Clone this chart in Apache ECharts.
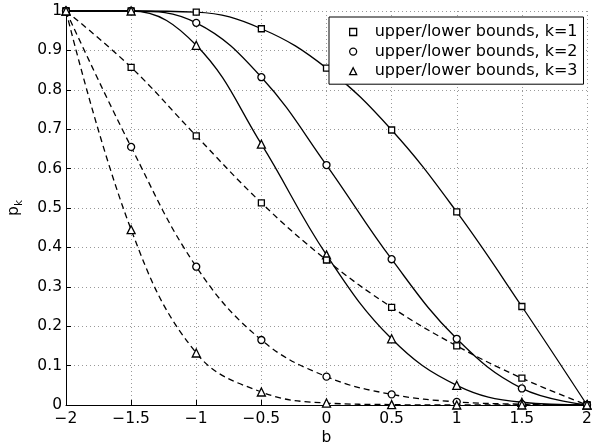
<!DOCTYPE html>
<html>
<head>
<meta charset="utf-8">
<script src="https://cdn.jsdelivr.net/npm/echarts@6/dist/echarts.min.js"></script>
<style>html,body{margin:0;padding:0;background:#fff;}#c{width:597px;height:445px;}</style>
</head>
<body>
<div id="c"></div>
<script>
// x positions of the markers
const bValues = [-2, -1.5, -1, -0.5, 0, 0.5, 1, 1.5, 2];
// upper bounds (solid)
const upperK1 = [1, 1, 0.997, 0.955, 0.855, 0.698, 0.49, 0.25, 0];
const upperK2 = [1, 1, 0.97, 0.832, 0.609, 0.37, 0.168, 0.042, 0];
const upperK3 = [1, 1, 0.913, 0.662, 0.381, 0.168, 0.05, 0.007, 0];
// lower bounds (dashed)
const lowerK1 = [1, 0.857, 0.683, 0.513, 0.368, 0.248, 0.15, 0.068, 0];
const lowerK2 = [1, 0.655, 0.351, 0.165, 0.072, 0.027, 0.008, 0.002, 0];
const lowerK3 = [1, 0.445, 0.132, 0.033, 0.005, 0.001, 0, 0, 0];
const legendNames = ['upper/lower bounds, k=1', 'upper/lower bounds, k=2', 'upper/lower bounds, k=3'];

const FONT = 'DejaVu Sans';
const pairs = arr => bValues.map((b, i) => [b, arr[i]]);
const mk = (name, arr, symbol, size, dashed) => ({
  name: name,
  type: 'line',
  data: pairs(arr),
  smooth: 0.4,
  symbol: symbol,
  symbolSize: size,
  showSymbol: true,
  clip: false,
  lineStyle: { color: '#000', width: 1.3, type: dashed ? [6, 4] : 'solid' },
  itemStyle: { color: '#fff', borderColor: '#000', borderWidth: 1.3 },
  emphasis: { disabled: true },
  animation: false
});

const chart = echarts.init(document.getElementById('c'));
chart.setOption({
  backgroundColor: '#fff',
  animation: false,
  grid: { left: 66, right: 10, top: 11, bottom: 40, containLabel: false, outerBoundsMode: 'none' },
  xAxis: {
    type: 'value', min: -2, max: 2, interval: 0.5,
    name: 'b', nameLocation: 'middle', nameGap: 25, nameMoveOverlap: false,
    nameTextStyle: { fontFamily: FONT, fontSize: 15.5, color: '#000' },
    axisLine: { onZero: false, lineStyle: { color: '#000', width: 1 } },
    axisTick: { inside: true, length: 5, lineStyle: { color: '#000' } },
    axisLabel: { fontFamily: FONT, fontSize: 15.5, color: '#000', margin: 6,
      formatter: v => String(v).replace('-', '\u2212') },
    splitLine: { show: true, lineStyle: { color: '#999', type: [1, 3], width: 1 } }
  },
  yAxis: {
    type: 'value', min: 0, max: 1, interval: 0.1,
    name: '{p|p}{k|k}', nameLocation: 'middle', nameGap: 44, nameRotate: 90, nameMoveOverlap: false,
    nameTextStyle: { fontFamily: FONT, color: '#000',
      rich: {
        p: { fontFamily: FONT, fontSize: 15.5, color: '#000', verticalAlign: 'bottom', lineHeight: 22 },
        k: { fontFamily: FONT, fontSize: 10.5, color: '#000', verticalAlign: 'bottom', lineHeight: 14, padding: [0, 0, -3, 0] }
      } },
    axisLine: { show: true, onZero: false, lineStyle: { color: '#000', width: 1 } },
    axisTick: { show: true, inside: true, length: 5, lineStyle: { color: '#000' } },
    axisLabel: { fontFamily: FONT, fontSize: 15.5, color: '#000', margin: 4,
      formatter: v => String(Math.round(v * 10) / 10) },
    splitLine: { show: true, lineStyle: { color: '#999', type: [1, 3], width: 1 } }
  },
  legend: {
    orient: 'vertical', left: 329, top: 17,
    backgroundColor: '#fff', borderColor: '#000', borderWidth: 1, borderRadius: 0,
    padding: [7, 6, 5, 20],
    itemGap: 3.6, itemWidth: 7, itemHeight: 7,
    selectedMode: false,
    textStyle: { fontFamily: FONT, fontSize: 16, color: '#000', lineHeight: 16, padding: [0, 0, 0, 13] },
    data: [
      { name: legendNames[0], icon: 'rect', itemStyle: { color: '#fff', borderColor: '#000', borderWidth: 1.3 } },
      { name: legendNames[1], icon: 'circle', itemStyle: { color: '#fff', borderColor: '#000', borderWidth: 1.3 } },
      { name: legendNames[2], icon: 'triangle', itemStyle: { color: '#fff', borderColor: '#000', borderWidth: 1.3 } }
    ]
  },
  series: [
    mk(legendNames[0], upperK1, 'rect', 6, false),
    mk(legendNames[1], upperK2, 'circle', 7, false),
    mk(legendNames[2], upperK3, 'triangle', 8, false),
    mk(legendNames[0], lowerK1, 'rect', 6, true),
    mk(legendNames[1], lowerK2, 'circle', 7, true),
    mk(legendNames[2], lowerK3, 'triangle', 8, true)
  ]
});
</script>
</body>
</html>
